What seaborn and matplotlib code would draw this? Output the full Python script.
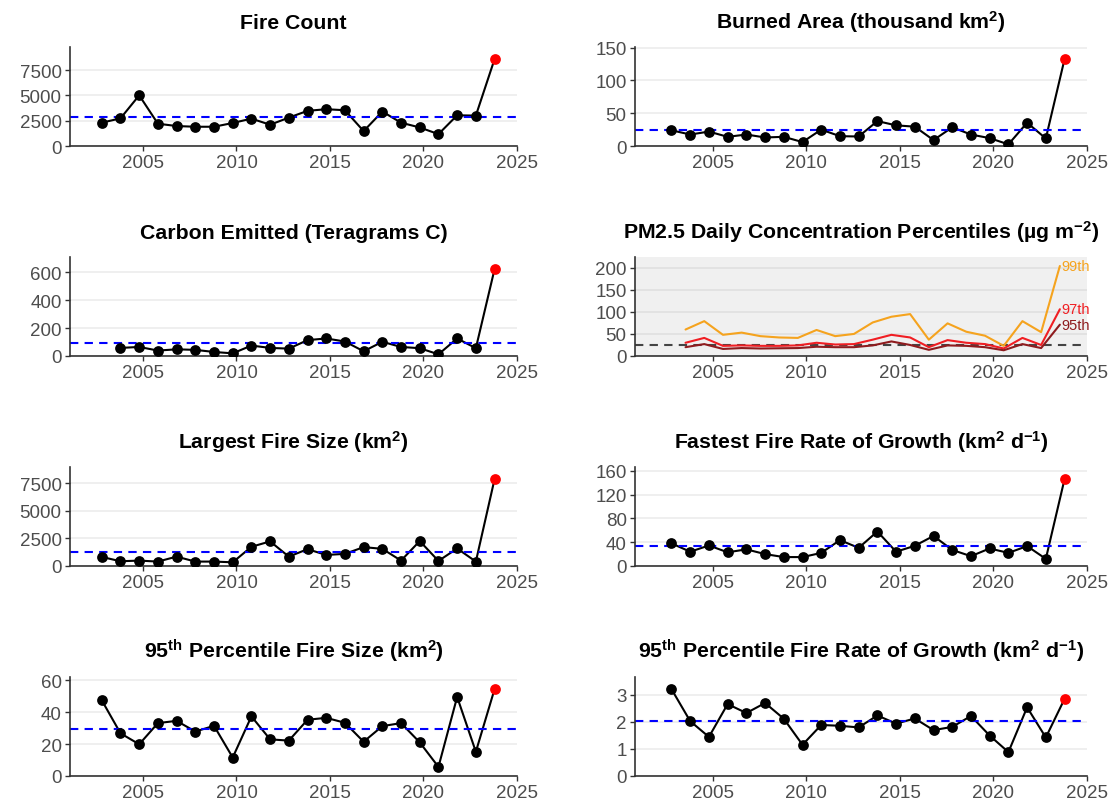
import numpy as np
import pandas as pd
import seaborn as sns
import matplotlib
matplotlib.use('Agg')
import matplotlib.pyplot as plt

# ---- data ----
years = list(range(2003, 2025))
years_04 = list(range(2004, 2025))

fire_count = [2300, 2730, 5000, 2200, 1970, 1900, 1900, 2270, 2700, 2100, 2800,
              3470, 3630, 3530, 1470, 3400, 2300, 1830, 1170, 3030, 3000, 8570]
burned_area = [24, 17.5, 22, 14, 17.5, 13, 14, 6, 25, 15, 14.5,
               38, 31.5, 29.5, 9, 28.5, 17.5, 12, 2.5, 35.5, 11.5, 132.5]
carbon = [58, 65, 39, 48, 44, 29, 19, 75, 58, 53, 114,
          126, 104, 34, 102, 65, 56, 12, 126, 56, 624]
largest_fire = [820, 430, 490, 400, 850, 400, 400, 335, 1740, 2230, 850,
                1525, 1000, 1100, 1710, 1555, 490, 2260, 460, 1590, 400, 7870]
fastest_growth = [38, 24, 34.5, 23, 28, 20, 15, 15, 22, 43.5, 30.5,
                  58, 24, 34, 50.5, 27, 16.5, 29.5, 22, 33.5, 12, 146]
p95_size = [47.5, 26.8, 19.9, 33.2, 34.6, 27.9, 31.5, 11.6, 37.4, 23, 22.2,
            35.3, 36.5, 33.4, 21.5, 31.3, 33.2, 21.1, 5.7, 49.6, 15.2, 54.5]
p95_growth = [3.2, 2.02, 1.44, 2.65, 2.32, 2.69, 2.11, 1.15, 1.88, 1.85, 1.79,
              2.23, 1.93, 2.12, 1.69, 1.81, 2.21, 1.49, 0.88, 2.53, 1.42, 2.84]

pm_99 = [60, 79, 48, 53, 45, 42, 41, 59, 45, 50, 76, 89, 95, 37, 74, 55, 46, 23, 79, 54, 204]
pm_97 = [30, 41, 23, 24, 23, 23, 24, 30, 26, 27, 37, 48, 42, 20, 36, 30, 27, 17, 41, 25, 106]
pm_95 = [20, 27, 16, 18, 17, 17.5, 18, 21, 20, 20, 24, 33, 25, 14, 24, 23, 20, 13, 27, 18, 71]
pm_labels = ['99th', '97th', '95th']
pm_guideline = 25

titles = [
    'Fire Count',
    'Burned Area (thousand km$^{2}$)',
    'Carbon Emitted (Teragrams C)',
    'PM2.5 Daily Concentration Percentiles (µg m$^{-2}$)',
    'Largest Fire Size (km$^{2}$)',
    'Fastest Fire Rate of Growth (km$^{2}$ d$^{-1}$)',
    '95$^{th}$ Percentile Fire Size (km$^{2}$)',
    '95$^{th}$ Percentile Fire Rate of Growth (km$^{2}$ d$^{-1}$)',
]
yticks = {
    'Fire Count': [0, 2500, 5000, 7500],
    'Burned': [0, 50, 100, 150],
    'Carbon': [0, 200, 400, 600],
    'PM': [0, 50, 100, 150, 200],
    'Largest': [0, 2500, 5000, 7500],
    'Fastest': [0, 40, 80, 120, 160],
    'P95 size': [0, 20, 40, 60],
    'P95 growth': [0, 1, 2, 3],
}
xticks = [2005, 2010, 2015, 2020, 2025]

# ---- style ----
sns.set_theme(style='white')
plt.rcParams['font.family'] = ['Liberation Sans', 'DejaVu Sans']
plt.rcParams['mathtext.default'] = 'regular'

pm_colors = ['#F5A31E', '#F01E23', '#8E1B1E']
x_shift = -0.2
pm_shift = -0.45

W, H = 1113, 804
fig = plt.figure(figsize=(W / 100, H / 100), dpi=100)
cols = [(70, 517), (635, 1087)]
rows = [(48, 147), (258, 357), (468, 567), (678, 777)]


def make_ax(i):
    r, c = divmod(i, 2)
    x0, x1 = cols[c]
    y0, y1 = rows[r]
    return fig.add_axes([x0 / W, 1 - y1 / H, (x1 - x0) / W, (y1 - y0) / H])


def style_ax(ax, title, ticks, top, grid_color='#EBEBEB'):
    ax.set_xlim(2001.1 if ax.get_position().x0 < 0.5 else 2000.85, 2025)
    ax.set_ylim(0, top)
    ax.set_xticks(xticks)
    ax.set_yticks(ticks)
    ax.yaxis.grid(True, color=grid_color, lw=1.1)
    ax.xaxis.grid(False)
    ax.set_axisbelow(True)
    for s in ['top', 'right']:
        ax.spines[s].set_visible(False)
    for s in ['left', 'bottom']:
        ax.spines[s].set_color('#333333')
        ax.spines[s].set_linewidth(1.2)
    ax.tick_params(axis='both', direction='out', length=3.5, width=1,
                   color='#333333', labelcolor='#4D4D4D', labelsize=13.5, pad=2.5,
                   left=True, bottom=True)
    ax.set_xlabel('')
    ax.set_ylabel('')
    ax.set_title(title, fontsize=15.3, fontweight='bold', color='black', pad=14)


def series_panel(ax, yrs, vals, title, ticks):
    df = pd.DataFrame({'x': np.array(yrs) + x_shift, 'y': vals})
    sns.lineplot(data=df, x='x', y='y', color='black', lw=1.5, ax=ax)
    sns.scatterplot(data=df.iloc[:-1], x='x', y='y', color='black', s=60,
                    linewidth=0, ax=ax, zorder=3)
    sns.scatterplot(data=df.iloc[-1:], x='x', y='y', color='red', s=60,
                    linewidth=0, ax=ax, zorder=4, clip_on=False)
    ax.axhline(np.mean(vals), color='blue', ls=(0, (4, 3)), lw=1.5, zorder=2)
    style_ax(ax, title, ticks, max(vals) * 1.14)


panels = [
    (years, fire_count, 'Fire Count'),
    (years, burned_area, 'Burned'),
    (years_04, carbon, 'Carbon'),
    None,
    (years, largest_fire, 'Largest'),
    (years, fastest_growth, 'Fastest'),
    (years, p95_size, 'P95 size'),
    (years, p95_growth, 'P95 growth'),
]

for i, p in enumerate(panels):
    ax = make_ax(i)
    if p is None:
        # PM2.5 percentiles panel
        ax.set_facecolor('#F0F0F0')
        pm_df = pd.DataFrame({
            'x': np.tile(np.array(years_04) + pm_shift, 3),
            'y': pm_99 + pm_97 + pm_95,
            'pct': np.repeat(pm_labels, len(years_04)),
        })
        sns.lineplot(data=pm_df, x='x', y='y', hue='pct', palette=pm_colors,
                     hue_order=pm_labels, lw=1.5, legend=False, ax=ax)
        ax.axhline(pm_guideline, color='#444444', ls=(0, (4, 3)), lw=1.5, zorder=1)
        for lab, col, vals in zip(pm_labels, pm_colors, [pm_99, pm_97, pm_95]):
            ax.text(years_04[-1] + pm_shift + 0.1, vals[-1], lab, color=col,
                    fontsize=10.5, ha='left', va='center', clip_on=False)
        style_ax(ax, titles[i], yticks['PM'], max(pm_99) * 1.1, grid_color='#DEDEDE')
    else:
        yrs, vals, key = p
        series_panel(ax, yrs, vals, titles[i], yticks[key])

fig.savefig('out.png', dpi=100)
